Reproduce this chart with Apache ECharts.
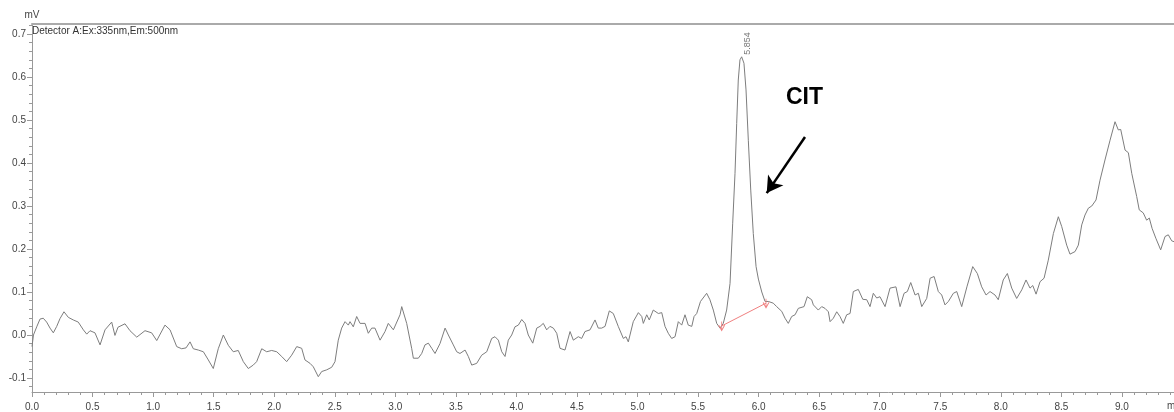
<!DOCTYPE html>
<html>
<head>
<meta charset="utf-8">
<script src="https://cdn.jsdelivr.net/npm/echarts@6/dist/echarts.min.js"></script>
<style>
  html, body { margin: 0; padding: 0; background: #fff; }
  #chart { width: 1174px; height: 412px; }
</style>
</head>
<body>
<div id="chart"></div>
<script>
// retention time (min) and detector signal (mV)
const times = [
  0.000, 0.012, 0.039, 0.066, 0.093, 0.121, 0.149, 0.176, 0.204, 0.231, 0.264, 0.300, 0.341, 0.382, 0.424,
  0.452, 0.479, 0.520, 0.562, 0.603, 0.658, 0.685, 0.710, 0.768, 0.809, 0.865, 0.933, 0.988, 1.030, 1.098,
  1.140, 1.195, 1.236, 1.272, 1.305, 1.332, 1.373, 1.415, 1.456, 1.497, 1.538, 1.580, 1.594, 1.621, 1.662,
  1.703, 1.745, 1.786, 1.827, 1.855, 1.897, 1.938, 1.979, 2.021, 2.062, 2.103, 2.144, 2.186, 2.227, 2.254,
  2.296, 2.323, 2.364, 2.392, 2.434, 2.475, 2.502, 2.529, 2.557, 2.585, 2.612, 2.626, 2.653, 2.681, 2.709,
  2.750, 2.777, 2.805, 2.832, 2.874, 2.915, 2.942, 2.984, 3.039, 3.053, 3.094, 3.135, 3.149, 3.190, 3.218,
  3.245, 3.273, 3.301, 3.328, 3.369, 3.411, 3.438, 3.479, 3.507, 3.534, 3.576, 3.603, 3.631, 3.672, 3.713,
  3.755, 3.796, 3.823, 3.851, 3.879, 3.906, 3.933, 3.961, 3.988, 4.016, 4.044, 4.071, 4.098, 4.135, 4.168,
  4.195, 4.222, 4.250, 4.277, 4.305, 4.333, 4.360, 4.401, 4.443, 4.470, 4.511, 4.539, 4.566, 4.608, 4.649,
  4.676, 4.704, 4.732, 4.767, 4.800, 4.841, 4.883, 4.905, 4.924, 4.965, 5.007, 5.035, 5.048, 5.076, 5.097,
  5.130, 5.172, 5.200, 5.227, 5.254, 5.282, 5.310, 5.337, 5.365, 5.392, 5.419, 5.448, 5.467, 5.489, 5.520,
  5.571, 5.598, 5.626, 5.654, 5.681, 5.695, 5.708, 5.736, 5.764, 5.786, 5.805, 5.819, 5.832, 5.846, 5.860,
  5.879, 5.896, 5.915, 5.935, 5.956, 5.979, 5.998, 6.026, 6.053, 6.080, 6.121, 6.149, 6.191, 6.218, 6.245,
  6.273, 6.301, 6.328, 6.375, 6.402, 6.438, 6.452, 6.493, 6.521, 6.548, 6.576, 6.590, 6.617, 6.645, 6.672,
  6.699, 6.727, 6.755, 6.782, 6.823, 6.860, 6.893, 6.920, 6.947, 6.975, 7.002, 7.044, 7.085, 7.134, 7.168,
  7.201, 7.228, 7.256, 7.292, 7.319, 7.347, 7.388, 7.416, 7.449, 7.484, 7.512, 7.539, 7.567, 7.608, 7.636,
  7.677, 7.720, 7.768, 7.806, 7.842, 7.878, 7.911, 7.952, 7.979, 8.020, 8.054, 8.090, 8.131, 8.173, 8.208,
  8.241, 8.264, 8.291, 8.324, 8.357, 8.392, 8.434, 8.475, 8.503, 8.544, 8.571, 8.613, 8.640, 8.668, 8.695,
  8.723, 8.751, 8.786, 8.819, 8.860, 8.902, 8.943, 8.970, 8.990, 9.026, 9.053, 9.081, 9.122, 9.143, 9.176,
  9.204, 9.226, 9.249, 9.280, 9.320, 9.356, 9.383, 9.411, 9.430
];
const signal = [
  -0.027, 0.000, 0.019, 0.037, 0.039, 0.030, 0.016, 0.005, 0.020, 0.038, 0.054, 0.041, 0.035, 0.030, 0.012,
  0.002, 0.010, 0.005, -0.023, 0.012, 0.030, -0.001, 0.018, 0.026, 0.010, -0.005, 0.010, 0.005, -0.013, 0.023,
  0.012, -0.027, -0.032, -0.030, -0.016, -0.032, -0.035, -0.039, -0.058, -0.078, -0.032, 0.000, 0.004, -0.024, -0.039,
  -0.036, -0.062, -0.078, -0.070, -0.062, -0.032, -0.039, -0.036, -0.039, -0.050, -0.062, -0.047, -0.027, -0.031, -0.058,
  -0.066, -0.074, -0.097, -0.085, -0.081, -0.075, -0.062, -0.012, 0.016, 0.031, 0.023, 0.031, 0.019, 0.043, 0.027,
  0.027, 0.004, 0.016, 0.016, -0.012, 0.008, 0.027, 0.012, 0.047, 0.066, 0.027, -0.031, -0.054, -0.054, -0.043,
  -0.023, -0.019, -0.031, -0.043, -0.020, 0.016, 0.000, -0.023, -0.039, -0.043, -0.035, -0.050, -0.070, -0.066, -0.047,
  -0.039, -0.008, -0.004, -0.012, -0.039, -0.050, -0.012, 0.000, 0.019, 0.023, 0.036, 0.027, 0.000, -0.019, 0.016,
  0.020, 0.027, 0.012, 0.020, 0.016, 0.004, -0.031, -0.035, 0.008, -0.012, -0.004, -0.008, 0.008, 0.012, 0.035,
  0.016, 0.016, 0.020, 0.056, 0.050, 0.020, -0.008, -0.004, -0.016, 0.031, 0.052, 0.043, 0.027, 0.047, 0.035,
  0.058, 0.050, 0.052, 0.020, 0.004, -0.008, -0.004, 0.031, 0.023, 0.047, 0.023, 0.020, 0.043, 0.050, 0.078,
  0.097, 0.082, 0.058, 0.027, 0.016, 0.020, 0.027, 0.058, 0.120, 0.260, 0.376, 0.492, 0.593, 0.640, 0.647,
  0.632, 0.570, 0.453, 0.337, 0.236, 0.159, 0.130, 0.100, 0.078, 0.078, 0.074, 0.066, 0.055, 0.039, 0.027,
  0.043, 0.047, 0.062, 0.066, 0.089, 0.082, 0.070, 0.058, 0.066, 0.062, 0.054, 0.031, 0.039, 0.054, 0.043,
  0.027, 0.047, 0.050, 0.101, 0.106, 0.083, 0.082, 0.066, 0.097, 0.086, 0.089, 0.066, 0.109, 0.112, 0.066,
  0.097, 0.101, 0.122, 0.093, 0.097, 0.066, 0.085, 0.132, 0.136, 0.101, 0.093, 0.070, 0.078, 0.097, 0.101,
  0.066, 0.112, 0.159, 0.143, 0.112, 0.093, 0.101, 0.093, 0.082, 0.128, 0.143, 0.109, 0.085, 0.105, 0.128,
  0.109, 0.115, 0.095, 0.124, 0.132, 0.174, 0.236, 0.275, 0.252, 0.209, 0.188, 0.194, 0.209, 0.256, 0.279,
  0.295, 0.300, 0.314, 0.360, 0.407, 0.453, 0.496, 0.477, 0.478, 0.430, 0.424, 0.376, 0.322, 0.291, 0.284,
  0.267, 0.272, 0.248, 0.225, 0.198, 0.229, 0.233, 0.219, 0.217
];

// y tick labels and minor ticks (mV)
const yLabels = [-0.1, 0.0, 0.1, 0.2, 0.3, 0.4, 0.5, 0.6, 0.7];
const yMinorTicks = [
  -0.12, -0.10, -0.08, -0.06, -0.04, -0.02, 0.00, 0.02, 0.04, 0.06, 0.08, 0.10, 0.12, 0.14, 0.16,
  0.18, 0.20, 0.22, 0.24, 0.26, 0.28, 0.30, 0.32, 0.34, 0.36, 0.38, 0.40, 0.42, 0.44, 0.46,
  0.48, 0.50, 0.52, 0.54, 0.56, 0.58, 0.60, 0.62, 0.64, 0.66, 0.68, 0.70, 0.72
];

// integrated peak: apex and baseline
const peakTimes = [5.854];
const peakHeights = [0.647];
const baseTimes = [5.695, 6.061];
const baseValues = [0.021, 0.074];

// annotation arrow pointing at the CIT peak
const arrowTimes = [6.383, 6.067];
const arrowValues = [0.4605, 0.330];

const font = "Liberation Sans";
const chart = echarts.init(document.getElementById("chart"));

const option = {
  animation: false,
  backgroundColor: "#fff",
  grid: { left: 32, right: 0, top: 24, bottom: 20 },
  xAxis: [
    {
      type: "value",
      min: 0,
      max: 9.43,
      interval: 0.5,
      position: "bottom",
      axisLine: { onZero: false, lineStyle: { color: "#999", width: 1 } },
      axisTick: { length: 5, lineStyle: { color: "#999" } },
      minorTick: { show: true, splitNumber: 5, length: 3, lineStyle: { color: "#999" } },
      axisLabel: {
        formatter: (v) => v.toFixed(1),
        showMaxLabel: false,
        margin: 10,
        color: "#444",
        fontSize: 10,
        fontFamily: font,
      },
      splitLine: { show: false },
    },
    {
      type: "value",
      min: 0,
      max: 9.43,
      position: "top",
      axisLine: { onZero: false, lineStyle: { color: "#aaa", width: 2 } },
      axisTick: { show: false },
      axisLabel: { show: false },
      splitLine: { show: false },
    },
  ],
  yAxis: [
    {
      type: "value",
      min: -0.1326,
      max: 0.7233,
      position: "left",
      name: "mV",
      nameLocation: "end",
      nameGap: 4,
      nameTextStyle: { color: "#444", fontSize: 10, fontFamily: font },
      axisLine: { show: true, onZero: false, lineStyle: { color: "#999" } },
      axisTick: { show: true, length: 5, customValues: yLabels, lineStyle: { color: "#999" } },
      axisLabel: {
        customValues: yLabels,
        formatter: (v) => v.toFixed(1),
        margin: 6,
        color: "#444",
        fontSize: 10,
        fontFamily: font,
      },
      splitLine: { show: false },
    },
    {
      type: "value",
      min: -0.1326,
      max: 0.7233,
      position: "left",
      axisLine: { show: false, onZero: false },
      axisTick: { show: true, length: 3, customValues: yMinorTicks, lineStyle: { color: "#999" } },
      axisLabel: { show: false },
      splitLine: { show: false },
    },
  ],
  graphic: [
    {
      type: "text",
      left: 32,
      top: 26,
      style: { text: "Detector A:Ex:335nm,Em:500nm", font: "10px " + font, fill: "#333" },
    },
    {
      type: "text",
      left: 786,
      top: 86,
      style: { text: "CIT", font: "bold 23px " + font, fill: "#000" },
    },
    {
      type: "text",
      left: 1167,
      top: 401,
      style: { text: "min", font: "10px " + font, fill: "#444" },
    },
  ],
  series: [
    {
      name: "Detector A",
      type: "line",
      data: times.map((t, i) => [t, signal[i]]),
      showSymbol: false,
      symbol: "none",
      lineStyle: { color: "#7d7d7d", width: 1 },
      z: 2,
    },
    {
      name: "baseline",
      type: "line",
      data: baseTimes.map((t, i) => [t, baseValues[i]]),
      symbol: "path://M5,0 L5,10 M0,4 L5,10 L10,4",
      symbolSize: [6, 9],
      showSymbol: true,
      itemStyle: { color: "none", borderColor: "#f08080", borderWidth: 1 },
      lineStyle: { color: "#f08080", width: 1 },
      z: 3,
    },
    {
      name: "peak",
      type: "scatter",
      data: peakTimes.map((t, i) => [t, peakHeights[i]]),
      symbolSize: 0,
      label: {
        show: true,
        formatter: (p) => p.value[0].toFixed(3),
        rotate: 90,
        position: "top",
        distance: 2,
        align: "left",
        verticalAlign: "middle",
        offset: [0, 7],
        color: "#555",
        fontSize: 9,
        fontFamily: font,
      },
      markLine: {
        silent: true,
        symbol: ["none", "arrow"],
        symbolSize: [14, 16],
        label: { show: false },
        lineStyle: { color: "#000", width: 2.5, type: "solid" },
        data: [
          [
            { coord: [arrowTimes[0], arrowValues[0]] },
            { coord: [arrowTimes[1], arrowValues[1]] },
          ],
        ],
      },
      z: 4,
    },
  ],
};

chart.setOption(option);
</script>
</body>
</html>
